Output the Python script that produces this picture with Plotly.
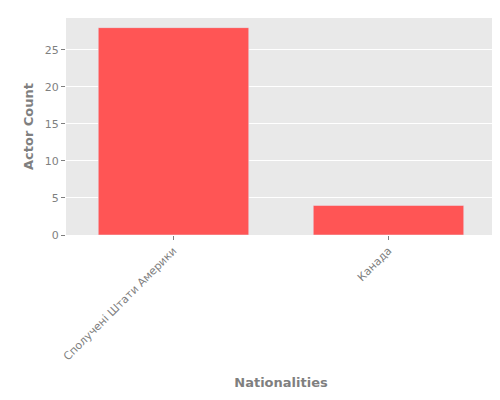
import plotly.graph_objects as go

nationalities = ["Сполучені Штати Америки", "Канада"]
actor_counts = [28, 4]

fig = go.Figure()
fig.add_trace(go.Bar(
    x=nationalities,
    y=actor_counts,
    marker_color="#ff5555",
    width=0.7,
))

fig.update_layout(
    width=500, height=400,
    margin=dict(l=58, r=12, t=10, b=173, autoexpand=False),
    paper_bgcolor="white",
    plot_bgcolor="#e9e9e9",
    font=dict(family="DejaVu Sans", size=11, color="#7f7f7f"),
    showlegend=False,
    xaxis=dict(
        title=dict(text="<b>Nationalities</b>", font=dict(size=13, color="#7f7f7f")),
        tickangle=-45, showgrid=False, ticks="outside", ticklen=4,
        tickcolor="#7f7f7f", tickfont=dict(size=11), automargin=False,
    ),
    yaxis=dict(
        title=dict(text="<b>Actor Count</b>", font=dict(size=13, color="#7f7f7f"), standoff=8),
        range=[0, 29.3], dtick=5, gridcolor="white", zeroline=False,
        ticks="outside", ticklen=4, tickcolor="#7f7f7f", tickfont=dict(size=11),
        automargin=False,
    ),
)

fig.write_html("out.html")
